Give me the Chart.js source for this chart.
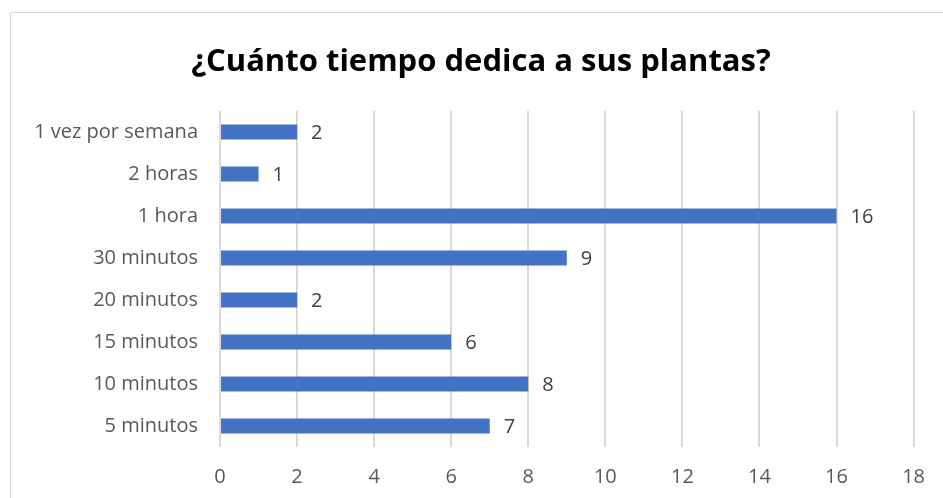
<!DOCTYPE html>
<html>
<head>
<meta charset="utf-8">
<script src="https://cdn.jsdelivr.net/npm/chart.js@4.4.0/dist/chart.umd.min.js"></script>
<style>
    body { margin: 0; background: #fff; }
    .wrap { position: relative; width: 943px; height: 498px; overflow: hidden; }
    .frame {
        position: absolute;
        left: 10px;
        top: 12px;
        width: 960px;
        height: 520px;
        border: 1px solid #d9d9d9;
    }
    canvas { position: absolute; left: 0; top: 0; }
</style>
</head>
<body>
<div class="wrap">
    <div class="frame"></div>
    <canvas id="chart" width="943" height="498"></canvas>
</div>
<script>
// Data
const categories = ['1 vez por semana', '2 horas', '1 hora', '30 minutos', '20 minutos', '15 minutos', '10 minutos', '5 minutos'];
const values = [2, 1, 16, 9, 2, 6, 8, 7];
const xTicks = [0, 2, 4, 6, 8, 10, 12, 14, 16, 18];
const titleText = '¿Cuánto tiempo dedica a sus plantas?';

const fontFamily = "'Open Sans', 'Liberation Sans', sans-serif";

// Value labels next to the bars + the title
const barLabels = {
    id: 'barLabels',
    afterDatasetsDraw(chart) {
        const ctx = chart.ctx;
        const meta = chart.getDatasetMeta(0);
        ctx.save();
        ctx.font = '20px ' + fontFamily;
        ctx.fillStyle = '#404040';
        ctx.textAlign = 'left';
        ctx.textBaseline = 'middle';
        meta.data.forEach((bar, i) => {
            ctx.fillText(values[i], bar.x + 14, bar.y + 1);
        });

        // title
        ctx.font = 'bold 31px ' + fontFamily;
        ctx.fillStyle = '#000';
        ctx.textAlign = 'center';
        ctx.fillText(titleText, 481, 62);
        ctx.restore();
    }
};

new Chart(document.getElementById('chart'), {
    type: 'bar',
    data: {
        labels: categories,
        datasets: [{
            data: values,
            backgroundColor: '#4472C4',
            categoryPercentage: 1,
            barPercentage: 0.36
        }]
    },
    options: {
        indexAxis: 'y',
        responsive: false,
        animation: false,
        layout: { padding: { left: 0, right: 29, top: 111, bottom: 0 } },
        plugins: {
            legend: { display: false },
            tooltip: { enabled: false },
            title: { display: false }
        },
        scales: {
            x: {
                min: 0,
                max: 18,
                afterBuildTicks(axis) {
                    axis.ticks = xTicks.map(v => ({ value: v }));
                },
                afterFit(axis) { axis.height = 51; },
                grid: { color: '#d9d9d9', lineWidth: 2, drawTicks: false },
                border: { display: false },
                ticks: {
                    padding: 18,
                    color: '#595959',
                    font: { family: fontFamily, size: 20 }
                }
            },
            y: {
                afterFit(axis) { axis.width = 220; },
                grid: { display: false, drawTicks: false },
                border: { display: false },
                ticks: {
                    padding: 22,
                    color: '#595959',
                    font: { family: fontFamily, size: 20 }
                }
            }
        }
    },
    plugins: [barLabels]
});
</script>
</body>
</html>
